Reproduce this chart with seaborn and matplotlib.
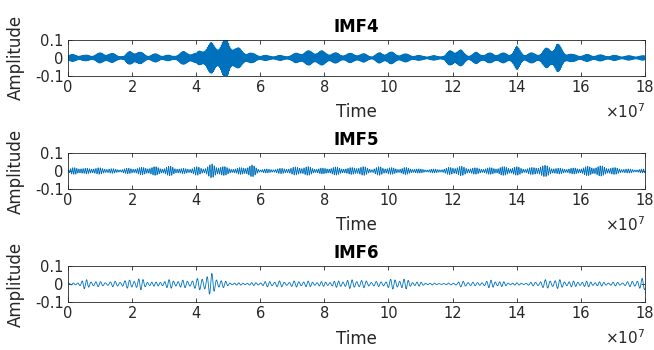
import matplotlib
matplotlib.use("Agg")
import matplotlib.pyplot as plt
import numpy as np
import seaborn as sns

# envelope amplitudes, one value every 0.25e7 (0 .. 18e7)
imf4_env = [0.012, 0.018, 0.012, 0.015, 0.022, 0.025, 0.015, 0.010,
            0.040, 0.025, 0.015, 0.018, 0.015, 0.010, 0.025, 0.030,
            0.020, 0.055, 0.065, 0.070, 0.090, 0.045, 0.035, 0.020,
            0.015, 0.010, 0.012, 0.010, 0.015, 0.030, 0.030, 0.035,
            0.028, 0.025, 0.018, 0.020, 0.020, 0.018, 0.010, 0.025,
            0.028, 0.020, 0.018, 0.015, 0.010, 0.010, 0.010, 0.012,
            0.045, 0.035, 0.015, 0.025, 0.020, 0.022, 0.022, 0.020,
            0.050, 0.020, 0.022, 0.025, 0.050, 0.065, 0.030, 0.015,
            0.015, 0.015, 0.015, 0.012, 0.012, 0.010, 0.010, 0.010,
            0.010]
imf5_env = [0.005, 0.020, 0.010, 0.015, 0.013, 0.012, 0.008, 0.010,
            0.013, 0.015, 0.018, 0.018, 0.015, 0.022, 0.010, 0.012,
            0.018, 0.015, 0.030, 0.022, 0.015, 0.010, 0.020, 0.025,
            0.008, 0.008, 0.010, 0.012, 0.015, 0.020, 0.018, 0.012,
            0.012, 0.018, 0.015, 0.012, 0.020, 0.018, 0.010, 0.020,
            0.015, 0.012, 0.015, 0.012, 0.008, 0.008, 0.008, 0.010,
            0.020, 0.020, 0.015, 0.013, 0.012, 0.015, 0.018, 0.018,
            0.018, 0.012, 0.015, 0.025, 0.022, 0.012, 0.012, 0.012,
            0.015, 0.020, 0.022, 0.020, 0.015, 0.012, 0.008, 0.008,
            0.008]
imf6_env = [0.003, 0.005, 0.020, 0.015, 0.010, 0.010, 0.012, 0.015,
            0.020, 0.025, 0.012, 0.008, 0.015, 0.020, 0.015, 0.018,
            0.020, 0.040, 0.045, 0.020, 0.008, 0.005, 0.005, 0.006,
            0.008, 0.012, 0.015, 0.010, 0.012, 0.015, 0.012, 0.010,
            0.010, 0.012, 0.015, 0.018, 0.020, 0.015, 0.012, 0.010,
            0.020, 0.022, 0.022, 0.012, 0.008, 0.005, 0.003, 0.003,
            0.005, 0.012, 0.012, 0.006, 0.012, 0.018, 0.012, 0.006,
            0.005, 0.004, 0.008, 0.015, 0.020, 0.020, 0.015, 0.012,
            0.012, 0.012, 0.010, 0.008, 0.008, 0.008, 0.010, 0.020,
            0.025]

# rough number of oscillations per 1e7 for each mode
cycles = {"IMF4": 30, "IMF5": 15, "IMF6": 7}
envelopes = {"IMF4": imf4_env, "IMF5": imf5_env, "IMF6": imf6_env}

xticks = list(range(0, 19, 2))
yticks = [-0.1, 0, 0.1]
ytick_labels = ["-0.1", "0", "0.1"]

blue = "#0072BD"
txt = "#262626"

sns.set_style("ticks")
plt.rcParams["font.family"] = ["DejaVu Sans"]

fig = plt.figure(figsize=(6.54, 3.5), dpi=100)
bottoms = [0.783, 0.46, 0.137]
height = 0.103

t = np.linspace(0, 18, 24000)
for (name, env), b in zip(envelopes.items(), bottoms):
    ax = fig.add_axes([0.104, b, 0.882, height])
    f = cycles[name]
    env_t = np.arange(len(env)) * 0.25
    amp = np.interp(t, env_t, env)
    carrier = np.sin(2 * np.pi * f * t + 1.3 * np.sin(2 * np.pi * 0.37 * t))
    carrier *= 1 + 0.35 * np.sin(2 * np.pi * 2.3 * t)
    y = amp * carrier
    sns.lineplot(x=t, y=y, ax=ax, estimator=None, color=blue, linewidth=0.6)
    ax.set_xlim(0, 18)
    ax.set_ylim(-0.1, 0.1)
    ax.set_xticks(xticks)
    ax.set_yticks(yticks)
    ax.set_yticklabels(ytick_labels)
    ax.tick_params(direction="in", top=True, right=True, length=3, width=0.6,
                   labelsize=10.5, colors=txt, pad=3)
    for s in ax.spines.values():
        s.set_linewidth(0.6)
        s.set_color(txt)
    ax.set_title(name, fontsize=12, fontweight="bold", color="black", pad=6)
    ax.set_xlabel("Time", fontsize=12, color=txt, labelpad=6)
    ax.set_ylabel("Amplitude", fontsize=12, color=txt)
    ax.yaxis.set_label_coords(-0.075, 0.5)
    ax.annotate(r"$\times10^{7}$", xy=(1, 0), xycoords="axes fraction",
                xytext=(0, -26), textcoords="offset pixels", ha="right", va="top",
                fontsize=11, color=txt)

fig.savefig("out.png", dpi=100)
